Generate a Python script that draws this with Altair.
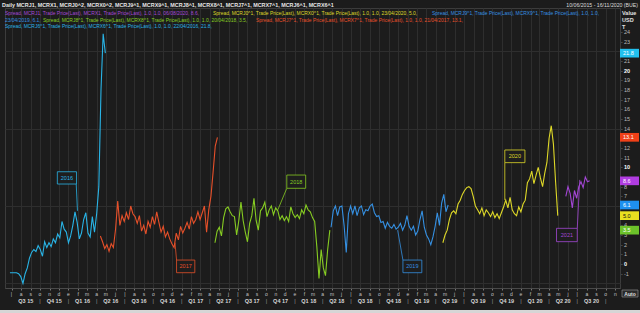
import altair as alt
import pandas as pd

W, H = 615, 280
FONT = "Liberation Sans"

# ---------------- data ----------------
series_names = ["2016", "2017", "2018", "2019", "2020", "2021"]
series_colors = ["#29b4e6", "#e6502a", "#86cc22", "#3590e2", "#ded828", "#a447d6"]
box_colors = ["#22c0ee", "#f04018", "#6cc22a", "#1e90f0", "#e8e020", "#b03ce0"]
series_starts = ["2015-06-26", "2016-04-13", "2017-04-18", "2018-04-28", "2019-04-24", "2020-05-25"]

v2016 = [-0.9, -0.9, -0.9, -0.9, -1.0, -1.3, -2.0, -1.0, -0.4, 0.6, 1.2, 1.5, 1.3, 1.9, 1.5,
         0.8, 2.3, 1.7, 2.2, 1.8, 2.6, 2.2, 3.1, 2.7, 4.4, 3.6, 3.3, 2.2, 2.9, 4.0, 5.4, 4.3,
         2.6, 3.2, 4.6, 5.3, 3.2, 2.8, 4.9, 3.3, 5.2, 8.0, 18.0, 23.8, 21.8]
v2017 = [2.9, 2.3, 1.6, 2.0, 1.3, 2.1, 1.7, 3.6, 6.5, 4.0, 5.0, 4.4, 5.3, 4.6, 6.0, 5.2, 4.9,
         4.2, 5.0, 3.4, 4.0, 3.1, 4.4, 3.8, 4.9, 4.1, 5.4, 4.3, 3.3, 3.9, 2.8, 3.3, 2.6, 2.1,
         1.7, 3.2, 2.5, 3.9, 3.2, 3.7, 4.3, 3.6, 4.9, 4.2, 4.6, 5.4, 4.6, 5.3, 6.0, 3.3, 5.6,
         7.0, 9.5, 12.2, 13.1]
v2018 = [2.2, 3.4, 3.8, 2.9, 4.8, 5.7, 5.9, 5.4, 5.0, 4.9, 3.0, 4.5, 6.4, 4.5, 3.3, 2.3, 4.2,
         5.0, 6.8, 4.5, 3.5, 5.5, 5.8, 6.4, 4.9, 5.6, 6.0, 5.1, 5.8, 5.5, 4.6, 5.0, 4.5, 4.9,
         4.4, 5.9, 5.2, 4.8, 5.1, 4.7, 5.6, 5.2, 6.1, 5.6, 5.4, 4.8, 4.4, 1.8, -1.5, 1.5, -0.4,
         -1.2, 1.5, 3.5]
v2019 = [3.8, 5.5, 6.0, 5.0, 5.9, 6.0, 4.0, 1.2, 5.2, 6.0, 5.2, 6.0, 5.0, 5.8, 6.0, 5.1, 5.6,
         5.5, 6.0, 6.2, 5.3, 4.9, 5.0, 4.3, 4.4, 3.7, 4.3, 3.9, 3.7, 4.1, 3.6, 3.8, 4.2, 3.5,
         4.0, 5.0, 3.9, 3.5, 3.9, 3.0, 3.4, 4.6, 5.5, 3.8, 3.0, 2.6, 2.0, 2.8, 3.9, 5.3, 4.0,
         6.3, 7.2, 5.4, 6.1]
v2020 = [2.2, 3.0, 3.5, 4.6, 5.3, 5.5, 5.2, 6.2, 6.6, 7.2, 7.6, 7.9, 8.0, 7.8, 7.0, 6.0, 5.6,
         5.2, 5.8, 5.0, 5.6, 5.3, 4.9, 5.4, 4.8, 5.2, 4.7, 5.3, 5.9, 6.6, 5.8, 6.9, 5.6, 5.2,
         5.0, 5.9, 5.4, 6.2, 6.6, 8.4, 8.8, 9.6, 8.3, 9.2, 10.0, 8.9, 8.0, 9.4, 10.5, 13.0,
         14.3, 12.4, 8.5, 5.0]
v2021 = [7.0, 8.0, 7.3, 5.8, 7.6, 6.8, 8.0, 8.5, 7.9, 9.0, 8.5, 8.6]
series_values = [v2016, v2017, v2018, v2019, v2020, v2021]

# annotation boxes (year tags) and their leader lines
ann_left = ["2015-11-26", "2016-12-15", "2017-12-06", "2018-12-16", "2019-11-10", "2020-04-25"]
ann_right = ["2016-01-27", "2017-02-12", "2018-02-05", "2019-02-15", "2020-01-14", "2020-07-01"]
ann_top = [9.54, 0.41, 9.2, 0.41, 11.79, 3.69]
ann_bottom = [8.27, -0.9, 7.83, -0.9, 10.48, 2.31]
lead_from_date = ["2016-01-26", "2016-12-15", "2017-12-06", "2018-12-16", "2019-11-10", "2020-07-01"]
lead_from_val = [8.27, 0.41, 7.83, 0.41, 10.48, 3.69]
lead_to_date = ["2016-01-30", "2016-12-10", "2017-11-07", "2018-11-29", "2019-11-10", "2020-07-09"]
lead_to_val = [5.5, 2.2, 5.6, 3.5, 6.6, 8.7]

# tick label texts
month_initials = ["e", "f", "m", "a", "m", "j", "|", "a", "s", "o", "n", "d"]
quarter_names = ["Q1", "Q2", "Q3", "Q4"]
y_tick_values = list(range(-1, 25))

header_text = ("Daily MCRJ1, MCRX1, MCRJ0^2, MCRX0^2, MCRJ9^1, MCRX9^1, MCRJ8^1, MCRX8^1, "
               "MCRJ7^1, MCRX7^1, MCRJ6^1, MCRX6^1")
range_text = "10/06/2015 - 16/11/2020 (BUE)"
legend_texts = [
    "Spread, MCRJ1, Trade Price(Last), MCRX1, Trade Price(Last), 1.0, 1.0, 06/08/2020, 8.6,",
    "Spread, MCRJ0^1, Trade Price(Last), MCRX0^1, Trade Price(Last), 1.0, 1.0, 23/04/2020, 5.0,",
    "Spread, MCRJ9^1, Trade Price(Last), MCRX9^1, Trade Price(Last), 1.0, 1.0,",
    "23/04/2019, 6.1,",
    "Spread, MCRJ8^1, Trade Price(Last), MCRX8^1, Trade Price(Last), 1.0, 1.0, 20/04/2018, 3.5,",
    "Spread, MCRJ7^1, Trade Price(Last), MCRX7^1, Trade Price(Last), 1.0, 1.0, 21/04/2017, 13.1,",
    "Spread, MCRJ6^1, Trade Price(Last), MCRX6^1, Trade Price(Last), 1.0, 1.0, 22/04/2016, 21.8,",
]
legend_series = ["2021", "2020", "2019", "2019", "2018", "2017", "2016"]

# ---------------- tables ----------------
rows = []
for name, start, vals in zip(series_names, series_starts, series_values):
    for d, v in zip(pd.date_range(start, periods=len(vals), freq="7D"), vals):
        rows.append({"series": name, "date": d, "value": v})
df = pd.DataFrame(rows)

last_vals = [vals[-1] for vals in series_values]
last_df = pd.DataFrame({
    "series": series_names,
    "value": last_vals,
    "label": [f"{v:.1f}" for v in last_vals],
    "tcolor": ["#ffffff", "#ffffff", "#ffffff", "#ffffff", "#111111", "#ffffff"],
})

ann_df = pd.DataFrame({
    "series": series_names,
    "left": pd.to_datetime(ann_left), "right": pd.to_datetime(ann_right),
    "top": ann_top, "bottom": ann_bottom,
    "fdate": pd.to_datetime(lead_from_date), "fval": lead_from_val,
    "tdate": pd.to_datetime(lead_to_date), "tval": lead_to_val,
})
ann_df["cdate"] = ann_df["left"] + (ann_df["right"] - ann_df["left"]) / 2
ann_df["cval"] = (ann_df["top"] + ann_df["bottom"]) / 2

months = pd.date_range("2015-07-01", "2020-11-01", freq="MS")
month_df = pd.DataFrame({"date": months, "label": [month_initials[m.month - 1] for m in months]})

qstarts = pd.date_range("2015-07-01", "2020-07-01", freq="QS-JAN")
q_df = pd.DataFrame({
    "date": [q + (q + pd.offsets.QuarterBegin(startingMonth=1) - q) / 2 for q in qstarts],
    "label": [f"{quarter_names[(q.month - 1) // 3]} {str(q.year)[2:]}" for q in qstarts],
})
sep_df = pd.DataFrame({"date": pd.date_range("2015-10-01", "2020-10-01", freq="QS-JAN"), "label": "|"})

# value-axis labels; those hidden behind a last-value box are left out
ytick_df = pd.DataFrame({"v": y_tick_values, "label": [str(v) for v in y_tick_values]})
ytick_df["major"] = ytick_df["v"] % 10 == 0
ytick_df["covered"] = ytick_df["v"].apply(lambda t: any(abs(t - lv) < 0.5 for lv in last_vals))

# pixel-placed legend texts
leg_px = [0, 208, 427, 0, 38, 251, 0]
leg_py = [6, 6, 6, 12.5, 12.5, 12.5, 19]
cmap = dict(zip(series_names, series_colors))
text_df = pd.DataFrame({
    "t": legend_texts,
    "px": leg_px,
    "py": leg_py,
    "c": [cmap[s] for s in legend_series],
})

# ---------------- chart ----------------
x_scale = alt.Scale(domain=[alt.DateTime(year=2015, month=6, date=10),
                            alt.DateTime(year=2020, month=11, date=16)])
y_scale = alt.Scale(domain=[-2.48, 26.47], nice=False, zero=False)
color_scale = alt.Scale(domain=series_names, range=series_colors)
box_scale = alt.Scale(domain=series_names, range=box_colors)

x_axis = alt.Axis(title=None, labels=False, grid=True, gridColor="#2e2e2e", gridWidth=1,
                  tickCount={"interval": "month", "step": 1}, ticks=True, tickSize=2,
                  tickColor="#777777", domain=True, domainColor="#4a4a4a")
y_axis = alt.Axis(title=None, orient="right", values=list(range(-2, 27)), grid=True,
                  gridColor="#2e2e2e", gridWidth=1, domain=False, ticks=False, labels=False)

lines = alt.Chart(df).mark_line(strokeWidth=1.1).encode(
    x=alt.X("date:T", scale=x_scale, axis=x_axis),
    y=alt.Y("value:Q", scale=y_scale, axis=y_axis),
    color=alt.Color("series:N", scale=color_scale, legend=None),
    detail="series:N",
)

ann_rect = alt.Chart(ann_df).mark_rect(fill="#1e1e1e", strokeWidth=0.8).encode(
    x="left:T", x2="right:T", y="top:Q", y2="bottom:Q",
    stroke=alt.Stroke("series:N", scale=color_scale, legend=None),
)
ann_rule = alt.Chart(ann_df).mark_rule(strokeWidth=0.8).encode(
    x="fdate:T", x2="tdate:T", y="fval:Q", y2="tval:Q",
    color=alt.Color("series:N", scale=color_scale, legend=None),
)
ann_text = alt.Chart(ann_df).mark_text(font=FONT, fontSize=5.5).encode(
    x="cdate:T", y="cval:Q", text="series:N",
    color=alt.Color("series:N", scale=color_scale, legend=None),
)

ytick_marks = alt.Chart(ytick_df).mark_text(font=FONT, fontSize=5, align="left", color="#9a9a9a").encode(
    x=alt.value(W + 1), y="v:Q", text=alt.value("-"))
ylab_minor = alt.Chart(ytick_df).transform_filter("!datum.major && !datum.covered").mark_text(
    font=FONT, fontSize=5.5, align="left", color="#b8b8b8").encode(
    x=alt.value(W + 4), y="v:Q", text="label:N")
ylab_major = alt.Chart(ytick_df).transform_filter("datum.major && !datum.covered").mark_text(
    font=FONT, fontSize=5.5, fontWeight="bold", align="left", color="#ffffff").encode(
    x=alt.value(W + 4), y="v:Q", text="label:N")

hl_rect = alt.Chart(last_df).transform_calculate(
    ylo="datum.value - 0.45", yhi="datum.value + 0.45"
).mark_rect().encode(
    x=alt.value(W), x2=alt.value(W + 19), y="ylo:Q", y2="yhi:Q",
    fill=alt.Fill("series:N", scale=box_scale, legend=None),
)
hl_text = alt.Chart(last_df).mark_text(font=FONT, fontSize=5.5, align="left").encode(
    x=alt.value(W + 3), y="value:Q", text="label:N",
    color=alt.Color("tcolor:N", scale=None),
)

month_text = alt.Chart(month_df).mark_text(font=FONT, fontSize=5, color="#c4c4c4").encode(
    x="date:T", y=alt.value(H + 6), text="label:N")
q_text = alt.Chart(q_df).mark_text(font=FONT, fontSize=5.5, fontWeight="bold", color="#d4d4d4").encode(
    x="date:T", y=alt.value(H + 12.5), text="label:N")
sep_text = alt.Chart(sep_df).mark_text(font=FONT, fontSize=5.5, color="#9a9a9a").encode(
    x="date:T", y=alt.value(H + 12.5), text="label:N")

px_text = alt.Chart(text_df).mark_text(font=FONT, fontSize=4.95, align="left", baseline="middle").encode(
    x=alt.X("px:Q", scale=None, axis=None),
    y=alt.Y("py:Q", scale=None, axis=None),
    text="t:N",
    color=alt.Color("c:N", scale=None),
)

header_label = alt.Chart(pd.DataFrame({"t": [header_text]})).mark_text(
    font=FONT, fontSize=5.4, fontWeight="bold", align="left", baseline="middle", color="#e6e6e6",
    x=-3, y=-3).encode(text="t:N")
range_label = alt.Chart(pd.DataFrame({"t": [range_text]})).mark_text(
    font=FONT, fontSize=5.2, align="right", baseline="middle", color="#dcdcdc",
    x=W + 18, y=-3).encode(text="t:N")
unit_label = alt.Chart(pd.DataFrame({"t": [["Value", "USD", "T"]]})).mark_text(
    font=FONT, fontSize=5.5, fontWeight="bold", align="left", baseline="middle", color="#e0e0e0",
    x=W + 2, y=5, lineHeight=7).encode(text="t")

auto_box = alt.Chart(pd.DataFrame({"a": [1]})).mark_rect(
    fill="#2a2a2a", stroke="#9a9a9a", strokeWidth=0.6).encode(
    x=alt.value(W + 2), x2=alt.value(W + 18), y=alt.value(H + 2), y2=alt.value(H + 9))
auto_text = alt.Chart(pd.DataFrame({"t": ["Auto"]})).mark_text(
    font=FONT, fontSize=5, fontWeight="bold", color="#e0e0e0", x=W + 10, y=H + 5.5).encode(text="t:N")
bottom_strip = alt.Chart(pd.DataFrame({"a": [1]})).mark_rect(fill="#d6d6d6").encode(
    x=alt.value(-5), x2=alt.value(W + 25), y=alt.value(H + 22), y2=alt.value(H + 30))

chart = alt.layer(
    lines, ann_rule, ann_rect, ann_text, ytick_marks, ylab_minor, ylab_major, hl_rect, hl_text,
    month_text, q_text, sep_text, px_text, header_label, range_label, unit_label,
    auto_box, auto_text, bottom_strip,
).properties(
    width=W, height=H, autosize="none",
    padding={"left": 5, "top": 8, "right": 20, "bottom": 25},
    background="#1c1c1c",
).configure_view(
    fill="#1f1f1f", stroke="#3c3c3c", strokeWidth=1,
)

chart.save("out.html", embed_options={"renderer": "svg", "actions": False})
